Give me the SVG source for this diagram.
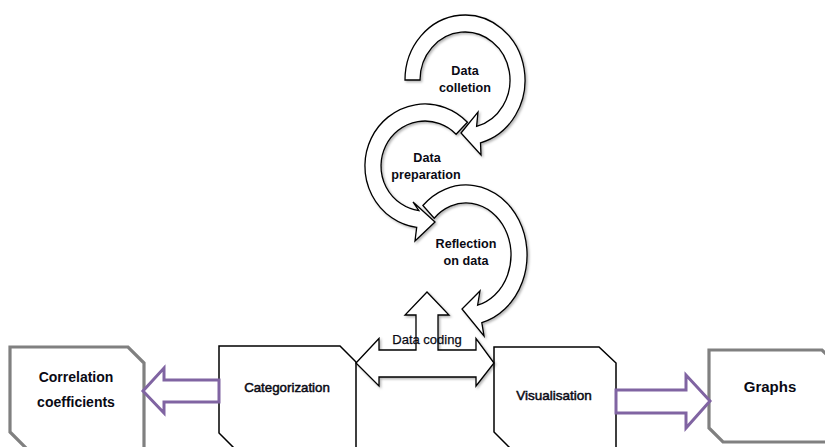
<svg xmlns="http://www.w3.org/2000/svg" width="825" height="447" viewBox="0 0 825 447">
<defs>
<filter id="sh" x="-20%" y="-20%" width="140%" height="140%">
<feDropShadow dx="1.5" dy="1.5" stdDeviation="1.2" flood-color="#000" flood-opacity="0.3"/>
</filter>
<style>
.blk{fill:#fff;stroke:#000;stroke-width:1.5;stroke-linejoin:miter}
.grey{fill:#fff;stroke:#808080;stroke-width:3.2;stroke-linejoin:miter}
.cyc{fill:#fff;stroke:#000;stroke-width:1.3;stroke-linejoin:miter;filter:url(#sh)}
.pur{fill:#fff;stroke:#8064A2;stroke-width:3;stroke-linejoin:miter}
text{font-family:"Liberation Sans",Arial,sans-serif;fill:#0a0a14;text-anchor:middle}
.b{font-weight:bold;font-size:12.6px}
.bb{font-weight:bold;font-size:14px}
.r{font-size:13.3px;stroke:#0a0a14;stroke-width:0.5}
.dc{font-size:13px;stroke:#0a0a14;stroke-width:0.25}
</style>
</defs>
<rect width="825" height="447" fill="#fff"/>

<g id="correlation-coefficients">
<path class="grey" d="M10,347 H128 L144,363 V460 H38 L10,432 Z"/>
<text class="bb" x="76" y="382">Correlation</text>
<text class="bb" x="76" y="407">coefficients</text>
</g>

<g id="categorization">
<path class="blk" d="M219,346 H340 L356,362 V460 H246 L219,433 Z"/>
<text class="r" x="287" y="392">Categorization</text>
</g>

<g id="visualisation">
<path class="blk" d="M494,347 H599 L616,363 V460 H522 L494,432 Z"/>
<text class="r" x="554" y="400" style="font-size:13.5px">Visualisation</text>
</g>

<g id="graphs">
<path class="grey" d="M709,350 H822 L842,370 V442 H723 L709,428 Z"/>
<text class="bb" x="770" y="392" style="font-size:15px">Graphs</text>
</g>

<g id="reflection-on-data">
<path class="cyc" d="M422.9,205.5 A61,70 0 1 1 481.8,322.6 L484,336 L462,309 L480,291 L477.6,305.2 A45,52 0 1 0 434.2,218.2 Z"/>
<text class="b" x="466" y="247.5">Reflection</text>
<text class="b" x="466" y="265">on data</text>
</g>

<g id="data-preparation">
<path class="cyc" d="M467.4,122.2 A60,62 0 1 0 416.7,227.4 L415,241 L435,222 L413,202 L418.9,210.6 A44,45 0 1 1 456.1,134.2 Z"/>
<text class="b" x="427" y="161.5">Data</text>
<text class="b" x="426" y="178.5">preparation</text>
</g>

<g id="data-collection">
<path class="cyc" d="M405,80 A60,65 0 1 1 480.5,142.8 L481,155 L461,133 L478,112 L476.6,126.4 A45,48 0 1 0 420,80 Z"/>
<text class="b" x="465" y="75">Data</text>
<text class="b" x="465" y="92">colletion</text>
</g>

<g id="data-coding">
<path class="cyc" d="M356,363 L379,338.5 V350 H416 V315 H405 L427,292 L449,315 H438 V350 H476 V338.5 L494,363 L476,386 V377 H379 V386 Z"/>
<text class="dc" x="427" y="343.5">Data coding</text>
</g>

<g id="connectors">
<path class="pur" d="M219,380 H164 V368 L143,391 L164,413 V402 H219 Z"/>
<path class="pur" d="M616,390 H686 V375 L710,401 L686,428 V413 H616 Z"/>
</g>
</svg>
